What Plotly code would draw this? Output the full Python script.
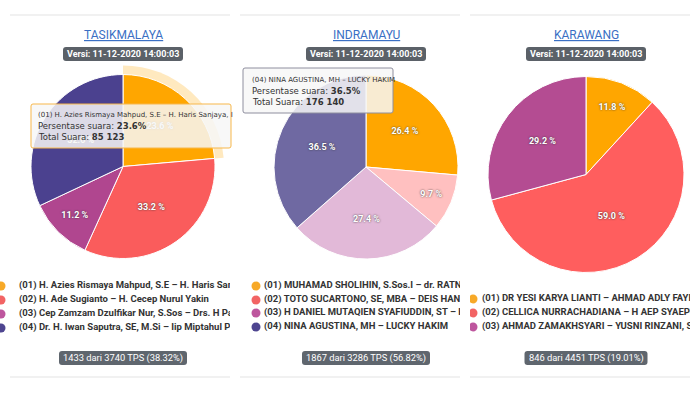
import plotly.graph_objects as go

W, H = 700, 393

# ---------------- data ----------------
regions = ["TASIKMALAYA", "INDRAMAYU", "KARAWANG"]
version = "Versi: 11-12-2020 14:00:03"

tasik_names = [
    "(01) H. Azies Rismaya Mahpud, S.E – H. Haris Sanjaya, M.Si",
    "(02) H. Ade Sugianto – H. Cecep Nurul Yakin",
    "(03) Cep Zamzam Dzulfikar Nur, S.Sos – Drs. H Padil Karsoma",
    "(04) Dr. H. Iwan Saputra, SE, M.Si – Iip Miptahul Paoz",
]
tasik_pct = [23.6, 33.2, 11.2, 32.0]

indra_names = [
    "(01) MUHAMAD SHOLIHIN, S.Sos.I – dr. RATNAWATI",
    "(02) TOTO SUCARTONO, SE, MBA – DEIS HANDIKA",
    "(03) H DANIEL MUTAQIEN SYAFIUDDIN, ST – H TASLIM",
    "(04) NINA AGUSTINA, MH – LUCKY HAKIM",
]
indra_pct = [26.4, 9.7, 27.4, 36.5]

kara_names = [
    "(01) DR YESI KARYA LIANTI – AHMAD ADLY FAYRUZ",
    "(02) CELLICA NURRACHADIANA – H AEP SYAEPULOH",
    "(03) AHMAD ZAMAKHSYARI – YUSNI RINZANI, S.Pd",
]
kara_pct = [11.8, 59.0, 29.2]

tps_text = ["1433 dari 3740 TPS (38.32%)",
            "1867 dari 3286 TPS (56.82%)",
            "846 dari 4451 TPS (19.01%)"]

tooltip_tasik = ["(01) H. Azies Rismaya Mahpud, S.E – H. Haris Sanjaya, I",
                 "23.6%", "85 123"]
tooltip_indra = ["(04) NINA AGUSTINA, MH – LUCKY HAKIM", "36.5%", "176 140"]

# ---------------- styles ----------------
FONT = "Roboto"
legend_cols = ["#F7A928", "#F26464", "#BE569E", "#4E4590"]
tasik_cols = ["#FFA600", "#FA5C5C", "#B0468F", "#4B418F"]
indra_cols = ["#FFA600", "#FFC0C0", "#E2B9D8", "#6F69A2"]
kara_cols = ["#FFA600", "#FF5E5E", "#B44C92"]


def px(x):
    return x / W


def py(y):
    return 1 - y / H


def pie_domain(cx, cy, r):
    return dict(x=[px(cx - r), px(cx + r)], y=[py(cy + r), py(cy - r)])


def rrect(x0, y0, x1, y1, r=3):
    X0, X1 = px(x0), px(x1)
    Y0, Y1 = py(y0), py(y1)
    rx, ry = r / W, r / H
    return (f"M {X0+rx},{Y0} L {X1-rx},{Y0} Q {X1},{Y0} {X1},{Y0-ry} "
            f"L {X1},{Y1+ry} Q {X1},{Y1} {X1-rx},{Y1} L {X0+rx},{Y1} "
            f"Q {X0},{Y1} {X0},{Y1+ry} L {X0},{Y0-ry} Q {X0},{Y0} {X0+rx},{Y0} Z")


fig = go.Figure()

pies = [
    (tasik_names, tasik_pct, tasik_cols, (123, 166.5, 92)),
    (indra_names, indra_pct, indra_cols, (366, 167, 92)),
    (kara_names, kara_pct, kara_cols, (586, 174.5, 98)),
]

# hover halo on the first Tasikmalaya slice
halo_cols = ["rgba(255,166,0,0.25)"] + ["rgba(0,0,0,0)"] * (len(tasik_pct) - 1)
fig.add_trace(go.Pie(
    labels=tasik_names, values=tasik_pct, sort=False, direction="clockwise",
    rotation=0, domain=pie_domain(123, 166.5, 101), textinfo="none",
    marker=dict(colors=halo_cols, line=dict(width=0)), hoverinfo="skip",
    showlegend=False))

for names, vals, cols, (cx, cy, r) in pies:
    fig.add_trace(go.Pie(
        labels=names, values=vals, sort=False, direction="clockwise",
        rotation=0, domain=pie_domain(cx, cy, r),
        texttemplate="%{value:.1f} %", textposition="inside",
        insidetextorientation="horizontal",
        textfont=dict(family=FONT, size=9, color="white",
                      weight="bold", shadow="0px 0px 2px #333"),
        marker=dict(colors=cols, line=dict(color="white", width=1)),
        showlegend=False, hoverinfo="label+percent"))

# ---------------- legends (clipped cartesian text) ----------------
legend_sets = [
    (tasik_names, legend_cols, 1, 19, [286, 300, 314, 328], "x"),
    (indra_names, legend_cols, 256, 264, [286, 300, 313, 327], "x2"),
    (kara_names, legend_cols[:3], 473, 482, [299, 313, 327], "x3"),
]
for names, cols, mx, tx, ys, xa in legend_sets:
    fig.add_trace(go.Scatter(
        x=[mx] * len(names), y=ys, mode="markers", xaxis=xa, yaxis="y",
        marker=dict(size=9, color=cols[:len(names)]), hoverinfo="skip",
        showlegend=False, cliponaxis=True))
    fig.add_trace(go.Scatter(
        x=[tx] * len(names), y=ys, mode="text", text=names,
        textposition="middle right", xaxis=xa, yaxis="y",
        textfont=dict(family=FONT, size=9.5, color="#333333", weight="bold"),
        hoverinfo="skip", showlegend=False, cliponaxis=True))

ax_common = dict(visible=False, fixedrange=True, showgrid=False, zeroline=False)
fig.update_layout(
    xaxis=dict(domain=[px(0), px(230)], range=[0, 230], **ax_common),
    xaxis2=dict(domain=[px(240), px(460)], range=[240, 460], anchor="y", **ax_common),
    xaxis3=dict(domain=[px(470), px(690)], range=[470, 690], anchor="y", **ax_common),
    yaxis=dict(domain=[0, 1], range=[H, 0], **ax_common),
)

shapes = []
annotations = []

centers = [123, 366, 586]
seps = [(10, 230), (240, 460), (470, 690)]
for i, cx in enumerate(centers):
    for yy in (15, 377):
        shapes.append(dict(type="line", xref="paper", yref="paper",
                           x0=px(seps[i][0]), x1=px(seps[i][1]),
                           y0=py(yy), y1=py(yy),
                           line=dict(color="#E3E3E3", width=1)))
    annotations.append(dict(
        x=px(cx), y=py(35), xref="paper", yref="paper", text=regions[i],
        showarrow=False, xanchor="center", yanchor="middle",
        font=dict(family=FONT, size=12, color="#3A6FC4", lineposition="under")))
    shapes.append(dict(type="path", xref="paper", yref="paper",
                       path=rrect(cx - 60, 47, cx + 60, 61, 3),
                       fillcolor="#5B6168", line=dict(width=0)))
    annotations.append(dict(
        x=px(cx), y=py(54), xref="paper", yref="paper", text=version,
        showarrow=False, xanchor="center", yanchor="middle",
        font=dict(family=FONT, size=9, color="white", weight="bold")))
    bw = 64 if i < 2 else 61.5
    shapes.append(dict(type="path", xref="paper", yref="paper",
                       path=rrect(cx - bw, 351, cx + bw, 365, 3),
                       fillcolor="#5F666E", line=dict(width=0)))
    annotations.append(dict(
        x=px(cx), y=py(358), xref="paper", yref="paper", text=tps_text[i],
        showarrow=False, xanchor="center", yanchor="middle",
        font=dict(family=FONT, size=9.3, color="white")))

tips = [
    (tooltip_tasik, (31, 104, 231, 148), "#F7B74A", 36, [115, 126, 137]),
    (tooltip_indra, (243, 68, 393, 113), "#8E8E9E", 250, [80, 91, 102]),
]
for (head, pct, tot), (x0, y0, x1, y1), bc, tx, ys in tips:
    shapes.append(dict(type="path", xref="paper", yref="paper",
                       path=rrect(x0, y0, x1, y1, 2),
                       fillcolor="rgba(247,247,247,0.85)",
                       line=dict(color=bc, width=1)))
    annotations.append(dict(x=px(tx), y=py(ys[0]), xref="paper", yref="paper",
                            text=head, showarrow=False, xanchor="left",
                            yanchor="middle",
                            font=dict(family="DejaVu Sans", size=7, color="#333333")))
    annotations.append(dict(x=px(tx), y=py(ys[1]), xref="paper", yref="paper",
                            text=f"Persentase suara: <b>{pct}</b>", showarrow=False,
                            xanchor="left", yanchor="middle",
                            font=dict(family="DejaVu Sans", size=8.5, color="#333333")))
    annotations.append(dict(x=px(tx), y=py(ys[2]), xref="paper", yref="paper",
                            text=f"Total Suara: <b>{tot}</b>", showarrow=False,
                            xanchor="left", yanchor="middle",
                            font=dict(family="DejaVu Sans", size=8.5, color="#333333")))

fig.update_layout(
    width=W, height=H, margin=dict(l=0, r=0, t=0, b=0),
    paper_bgcolor="white", plot_bgcolor="rgba(0,0,0,0)",
    shapes=shapes, annotations=annotations, showlegend=False,
)

fig.write_html("out.html", config={"displayModeBar": False},
               post_script="document.body.style.margin='0px';")
